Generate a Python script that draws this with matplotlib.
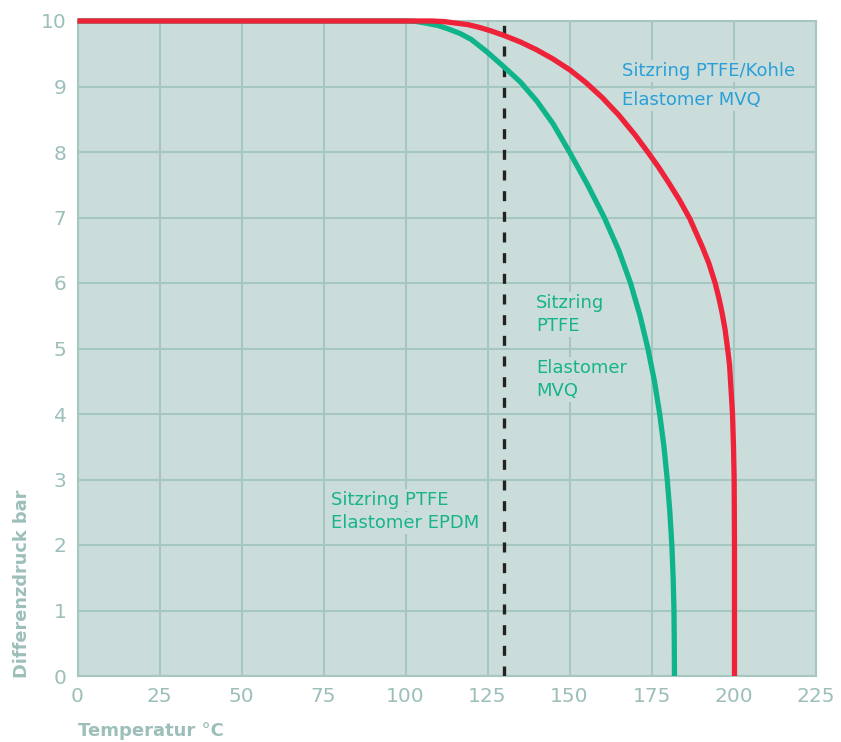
import matplotlib
matplotlib.use("Agg")
import matplotlib.pyplot as plt

# Data
green_temp = [0, 100, 103, 106, 110, 113, 116.6, 120, 124.8, 130, 135, 140, 145, 150, 155.5, 160.6, 165.0, 168.6, 171.5, 173.9, 175.9, 177.5, 178.8, 179.8, 180.6, 181.2, 181.6, 181.85, 181.95, 182.0]
green_pres = [10, 10, 9.995, 9.97, 9.93, 9.88, 9.81, 9.72, 9.53, 9.3, 9.07, 8.78, 8.43, 8.0, 7.5, 7.0, 6.5, 6.0, 5.5, 5.0, 4.5, 4.0, 3.5, 3.0, 2.5, 2.0, 1.5, 1.0, 0.5, 0.0]

red_temp = [0, 108, 112, 115, 119, 122.7, 126, 130, 135, 140, 145, 150.2, 155, 160, 165, 170, 174, 177, 180, 183.5, 186.7, 190.5, 192.5, 194.4, 195.5, 196.5, 197.4, 198.2, 198.8, 199.1, 199.4, 199.7, 200.0, 200.2, 200.3, 200.3]
red_pres = [10, 10, 9.99, 9.97, 9.945, 9.9, 9.85, 9.78, 9.68, 9.56, 9.42, 9.25, 9.06, 8.83, 8.565, 8.26, 7.99, 7.78, 7.55, 7.27, 6.98, 6.55, 6.3, 6.0, 5.78, 5.55, 5.3, 5.0, 4.75, 4.5, 4.25, 4.0, 3.5, 3.0, 2.0, 0.0]

limit_temp = 130

x_ticks = [0, 25, 50, 75, 100, 125, 150, 175, 200, 225]
y_ticks = [0, 1, 2, 3, 4, 5, 6, 7, 8, 9, 10]

bg = "#CADDDA"
gridc = "#A6C6C1"
tickc = "#9DBFBA"
red = "#EE2238"
green = "#10B48A"
blue = "#2A9FD8"
textgreen = "#17B38A"

fig = plt.figure(figsize=(8.41, 7.42), dpi=100)
ax = fig.add_axes([77.5/841, 1-676/742, (815.5-77.5)/841, (676-21)/742])
ax.set_facecolor(bg)
ax.set_xlim(0, 225)
ax.set_ylim(0, 10)
ax.set_xticks(x_ticks)
ax.set_yticks(y_ticks)
ax.grid(True, color=gridc, linewidth=1.5, zorder=0)
ax.set_axisbelow(True)
for s in ax.spines.values():
    s.set_color(gridc)
    s.set_linewidth(1.5)
ax.tick_params(length=0, labelsize=14.5, colors=tickc, pad=8)
for lab in ax.get_xticklabels() + ax.get_yticklabels():
    lab.set_color(tickc)

ax.plot(green_temp, green_pres, color=green, lw=3.8, zorder=4, clip_on=False,
        solid_capstyle='butt', solid_joinstyle='round')
ax.plot(red_temp, red_pres, color=red, lw=3.8, zorder=5, clip_on=False,
        solid_capstyle='butt', solid_joinstyle='round')
ax.axvline(limit_temp, color="#222222", lw=2.4, linestyle=(0, (3.0, 3.2)), zorder=3)

box = dict(facecolor=bg, edgecolor='none', pad=1.5)
ax.text(166.0, 9.24, "Sitzring PTFE/Kohle", color=blue, fontsize=13, va='center', ha='left', bbox=box, zorder=2)
ax.text(166.0, 8.79, "Elastomer MVQ", color=blue, fontsize=13, va='center', ha='left', bbox=box, zorder=2)
ax.text(139.8, 5.69, "Sitzring", color=textgreen, fontsize=13, va='center', ha='left', bbox=box, zorder=2)
ax.text(139.8, 5.34, "PTFE", color=textgreen, fontsize=13, va='center', ha='left', bbox=box, zorder=2)
ax.text(139.8, 4.70, "Elastomer", color=textgreen, fontsize=13, va='center', ha='left', bbox=box, zorder=2)
ax.text(139.8, 4.35, "MVQ", color=textgreen, fontsize=13, va='center', ha='left', bbox=box, zorder=2)
ax.text(77.3, 2.69, "Sitzring PTFE", color=textgreen, fontsize=13, va='center', ha='left', bbox=box, zorder=2)
ax.text(77.3, 2.34, "Elastomer EPDM", color=textgreen, fontsize=13, va='center', ha='left', bbox=box, zorder=2)

fig.text(78/841, 1-731/742, "Temperatur °C", color=tickc, fontsize=13, fontweight='bold', ha='left', va='center')
fig.text(22/841, 1-678/742, "Differenzdruck bar", color=tickc, fontsize=12.8, fontweight='bold', ha='center', va='bottom', rotation=90)

fig.savefig("out.png", dpi=100, facecolor='white')
